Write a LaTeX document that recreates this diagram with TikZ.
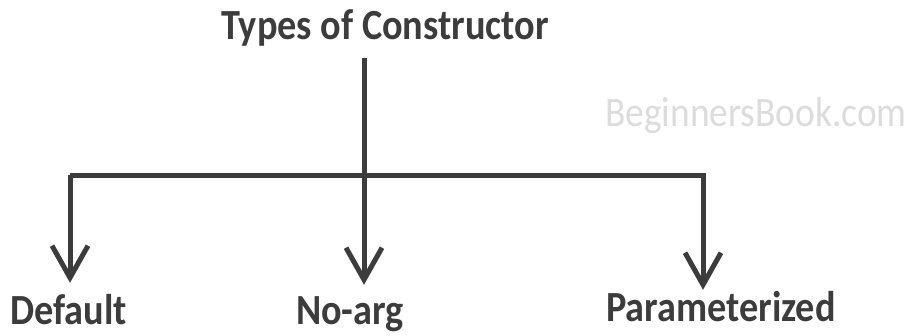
\documentclass[tikz,border=0pt]{standalone}
\usepackage{fontspec}
\setmainfont{Carlito}[FakeStretch=0.89]
\usetikzlibrary{arrows.meta, positioning}
\definecolor{inkgrey}{HTML}{3C3C3C}
\definecolor{markgrey}{HTML}{DCDCDC}
\tikzset{
  lbl/.style = {font=\bfseries\fontsize{43}{50}\selectfont, text=inkgrey,
    inner xsep=0pt, anchor=base, text height=28pt, text depth=8pt},
  arr/.style = {draw=inkgrey, line width=5pt,
    -{Straight Barb[length=32pt, width=36pt]}}
}
\begin{document}
\begin{tikzpicture}[x=1pt, y=1pt]
\useasboundingbox (0,0) rectangle (920,335);
\node [lbl, inner ysep=10pt] (types) at (385,295) {Types of Constructor};
\node [lbl, inner ysep=13pt] (default) at (68.5,11) {Default};
\node [lbl, inner ysep=11pt] (noarg) at (350,11) {No-arg};
\node [lbl, inner ysep=3pt] (param) at (721,14) {Parameterized};
\node [anchor=base, text=markgrey, font=\fontsize{42}{50}\selectfont] (mark) at (756,208) {BeginnersBook.com};
\coordinate (hl) at (70,160);
\coordinate (mid) at (364,160);
\coordinate (hr) at (703,160);
\draw [arr] (types.south -| mid) -- (noarg.north -| mid);
\draw [arr] (hl) -- (default.north -| hl);
\draw [arr] (hl) -- (hr) -- (param.north -| hr);
\end{tikzpicture}
\end{document}
